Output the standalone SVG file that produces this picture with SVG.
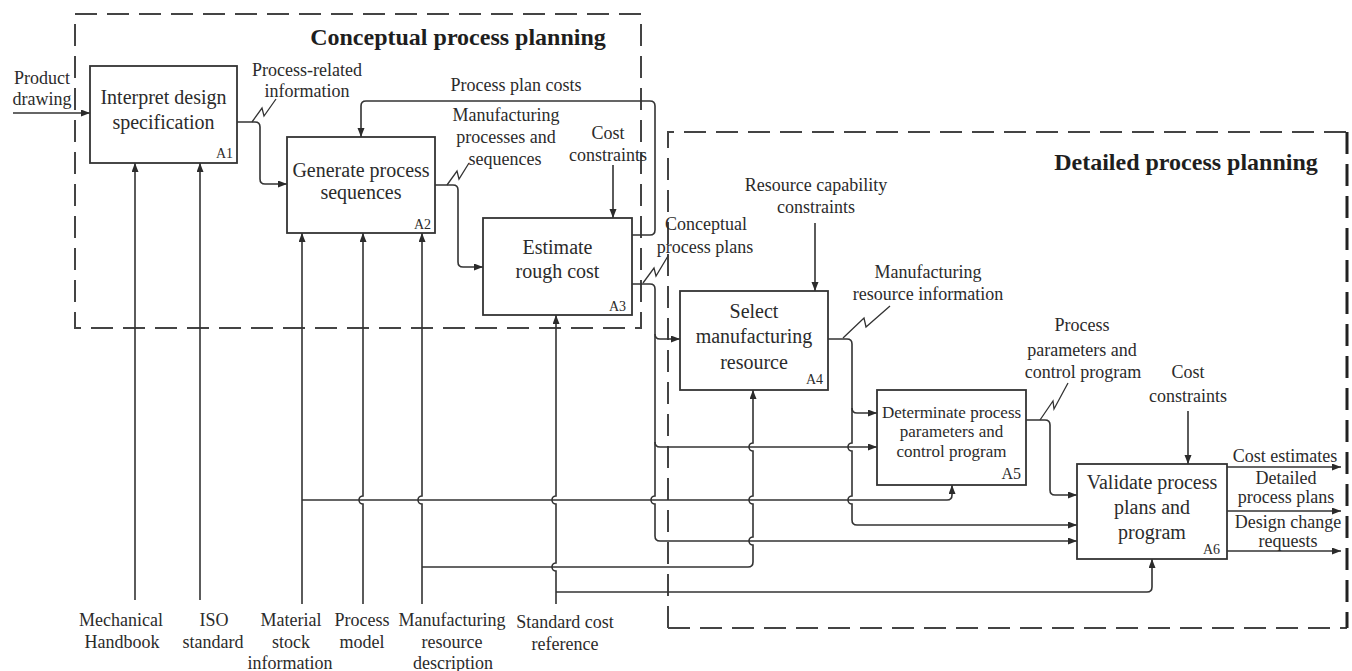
<svg xmlns="http://www.w3.org/2000/svg" width="1352" height="671" viewBox="0 0 1352 671">
  <defs>
    <marker id="arr" markerUnits="userSpaceOnUse" markerWidth="10" markerHeight="8" refX="9" refY="3.5" orient="auto">
      <path d="M0,0 L9,3.5 L0,7 z" fill="#2b2b2b"/>
    </marker>
    <style>
      text { font-family: "Liberation Serif", "Times New Roman", serif; fill: #2b2b2b; }
      .box { font-size: 20px; text-anchor: middle; }
      .box5 { font-size: 17px; text-anchor: middle; }
      .lbl { font-size: 18px; text-anchor: middle; }
      .id { font-size: 14px; text-anchor: end; }
      .title { font-size: 24px; font-weight: bold; text-anchor: middle; fill: #1e1e1e; }
      .node rect { fill: #fff; stroke: #333; stroke-width: 1.8; }
      .frame { fill: none; stroke: #444; stroke-width: 2; stroke-dasharray: 22 10; }
      .conn path { fill: none; stroke: #333; stroke-width: 1.6; }
      .conn path.arrow { marker-end: url(#arr); }
      .conn path.zig { stroke-width: 1.3; }
    </style>
  </defs>

  <rect width="1352" height="671" fill="#fff"/>

  <!-- Planning stage frames -->
  <g id="conceptual-frame">
    <rect class="frame" x="75" y="14" width="566" height="314"/>
    <text class="title" x="458" y="45">Conceptual process planning</text>
  </g>
  <g id="detailed-frame">
    <path class="frame" d="M668,628 V132 H1347"/>
    <path class="frame" d="M668,628 H1347"/>
    <path class="frame" d="M1347,132 V628" style="stroke-width:3;stroke:#222"/>
    <text class="title" x="1186" y="170">Detailed process planning</text>
  </g>

  <!-- Connectors -->
  <g id="connectors" class="conn">
    <!-- input to A1 -->
    <path class="arrow" d="M13,113 H90"/>
    <!-- A1 -> A2 -->
    <path class="arrow" d="M237,122 H255 Q260,122 260,127 V179 Q260,184 265,184 H287"/>
    <path class="zig" d="M252,122 L262,108 L264,116 L276,99"/>
    <!-- A2 -> A3 -->
    <path class="arrow" d="M435,185 H453 Q458,185 458,190 V262 Q458,267 463,267 H483"/>
    <path class="zig" d="M447,185 L457,171 L459,179 L469,163"/>
    <!-- A3 feedback -> A2 -->
    <path class="arrow" d="M632,235 H650 Q655,235 655,230 V106 Q655,101 650,101 H366 Q361,101 361,106 V137"/>
    <!-- cost constraints -> A3 -->
    <path class="arrow" d="M613,165 V218"/>
    <!-- A3 output -->
    <path class="arrow" d="M632,284 H650 Q655,284 655,289 V496 A4,4 0 0 0 655,504 V536 Q655,541 660,541 H1077"/>
    <path class="arrow" d="M655,334 Q655,339 660,339 H680"/>
    <path class="arrow" d="M655,442 Q655,447 660,447 H877"/>
    <path class="zig" d="M643,283 L654,268 L656,276 L668,256"/>
    <!-- resource capability -> A4 -->
    <path class="arrow" d="M815,223 V291"/>
    <!-- A4 output -->
    <path class="arrow" d="M828,339 H847 Q852,339 852,344 V443 A4,4 0 0 0 852,451 V496 A4,4 0 0 0 852,504 V520 Q852,525 857,525 H1077"/>
    <path class="arrow" d="M852,408 Q852,413 857,413 H877"/>
    <path class="zig" d="M843,338 L864,318 L866,327 L890,306"/>
    <!-- A5 output -> A6 -->
    <path class="arrow" d="M1026,420 H1045 Q1050,420 1050,425 V490 Q1050,495 1055,495 H1077"/>
    <path class="zig" d="M1040,420 L1053,401 L1054,409 L1068,383"/>
    <!-- cost constraints -> A6 -->
    <path class="arrow" d="M1188,411 V464"/>
    <!-- A6 outputs -->
    <path class="arrow" d="M1227,467 H1341"/>
    <path class="arrow" d="M1227,511 H1341"/>
    <path class="arrow" d="M1227,551 H1341"/>
    <!-- mechanisms -->
    <path class="arrow" d="M135,600 V163"/>
    <path class="arrow" d="M200,600 V163"/>
    <path class="arrow" d="M302,604 V233"/>
    <path class="arrow" d="M302,500 H947 Q952,500 952,495 V485"/>
    <path class="arrow" d="M363,604 V504 A4,4 0 0 1 363,496 V233"/>
    <path class="arrow" d="M422,604 V504 A4,4 0 0 1 422,496 V233"/>
    <path class="arrow" d="M422,567 H748 Q753,567 753,562 V545 A4,4 0 0 1 753,537 V504 A4,4 0 0 1 753,496 V451 A4,4 0 0 1 753,443 V390"/>
    <path class="arrow" d="M556,604 V571 A4,4 0 0 1 556,563 V504 A4,4 0 0 1 556,496 V315"/>
    <path class="arrow" d="M556,592 H1147 Q1152,592 1152,587 V559"/>
  </g>

  <!-- Activity boxes -->
  <g id="A1" class="node">
    <rect x="90" y="66" width="147" height="97"/>
    <text class="box" x="163.5" y="104">Interpret design</text>
    <text class="box" x="163.5" y="129">specification</text>
    <text class="id" x="233" y="158">A1</text>
  </g>
  <g id="A2" class="node">
    <rect x="287" y="137" width="148" height="96"/>
    <text class="box" x="361" y="177">Generate process</text>
    <text class="box" x="361" y="199">sequences</text>
    <text class="id" x="431" y="229">A2</text>
  </g>
  <g id="A3" class="node">
    <rect x="483" y="218" width="149" height="97"/>
    <text class="box" x="557.5" y="254">Estimate</text>
    <text class="box" x="557.5" y="278">rough cost</text>
    <text class="id" x="626" y="311">A3</text>
  </g>
  <g id="A4" class="node">
    <rect x="680" y="291" width="148" height="99"/>
    <text class="box" x="754" y="318">Select</text>
    <text class="box" x="754" y="343">manufacturing</text>
    <text class="box" x="754" y="369">resource</text>
    <text class="id" x="823" y="384">A4</text>
  </g>
  <g id="A5" class="node">
    <rect x="877" y="390" width="149" height="95"/>
    <text class="box5" x="951.5" y="418">Determinate process</text>
    <text class="box5" x="951.5" y="437">parameters and</text>
    <text class="box5" x="951.5" y="457">control program</text>
    <text class="id" x="1021" y="479" style="font-size:16px">A5</text>
  </g>
  <g id="A6" class="node">
    <rect x="1077" y="464" width="150" height="95"/>
    <text class="box" x="1152" y="489">Validate process</text>
    <text class="box" x="1152" y="514">plans and</text>
    <text class="box" x="1152" y="539">program</text>
    <text class="id" x="1220" y="554">A6</text>
  </g>

  <!-- Arrow labels -->
  <g id="labels">
    <text class="lbl" x="42" y="84">Product</text>
    <text class="lbl" x="42" y="105">drawing</text>
    <text class="lbl" x="307" y="76">Process-related</text>
    <text class="lbl" x="307" y="97">information</text>
    <text class="lbl" x="516" y="91">Process plan costs</text>
    <text class="lbl" x="506" y="121">Manufacturing</text>
    <text class="lbl" x="506" y="143">processes and</text>
    <text class="lbl" x="505" y="165">sequences</text>
    <text class="lbl" x="608" y="139">Cost</text>
    <text class="lbl" x="608" y="161">constraints</text>
    <text class="lbl" x="706" y="230">Conceptual</text>
    <text class="lbl" x="705" y="253">process plans</text>
    <text class="lbl" x="816" y="191">Resource capability</text>
    <text class="lbl" x="816" y="213">constraints</text>
    <text class="lbl" x="928" y="278">Manufacturing</text>
    <text class="lbl" x="928" y="300">resource information</text>
    <text class="lbl" x="1082" y="331">Process</text>
    <text class="lbl" x="1082" y="356">parameters and</text>
    <text class="lbl" x="1083" y="378">control program</text>
    <text class="lbl" x="1188" y="378">Cost</text>
    <text class="lbl" x="1188" y="402">constraints</text>
    <text class="lbl" x="1285" y="462">Cost estimates</text>
    <text class="lbl" x="1286" y="484">Detailed</text>
    <text class="lbl" x="1286" y="503">process plans</text>
    <text class="lbl" x="1288" y="528">Design change</text>
    <text class="lbl" x="1288" y="547">requests</text>
    <text class="lbl" x="121" y="626">Mechanical</text>
    <text class="lbl" x="122" y="648">Handbook</text>
    <text class="lbl" x="214" y="626">ISO</text>
    <text class="lbl" x="213" y="648">standard</text>
    <text class="lbl" x="291" y="626">Material</text>
    <text class="lbl" x="291" y="648">stock</text>
    <text class="lbl" x="290" y="669">information</text>
    <text class="lbl" x="362" y="626">Process</text>
    <text class="lbl" x="362" y="648">model</text>
    <text class="lbl" x="452" y="626">Manufacturing</text>
    <text class="lbl" x="452" y="648">resource</text>
    <text class="lbl" x="453" y="669">description</text>
    <text class="lbl" x="565" y="628">Standard cost</text>
    <text class="lbl" x="565" y="650">reference</text>
  </g>
</svg>
